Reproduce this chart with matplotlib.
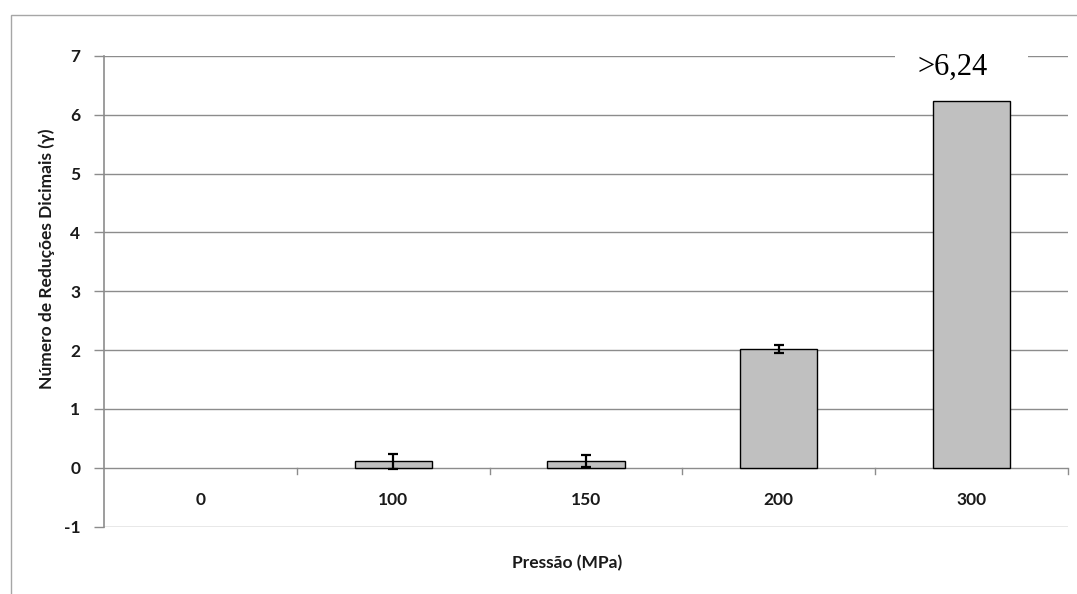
import matplotlib
matplotlib.use("Agg")
import matplotlib.pyplot as plt
from matplotlib.patches import Rectangle

categories = ["0", "100", "150", "200", "300"]
values = [0.0, 0.11, 0.12, 2.02, 6.24]
errors = [0.0, 0.13, 0.10, 0.07, 0.0]
yticks = [-1, 0, 1, 2, 3, 4, 5, 6, 7]
annotation = ">6,24"

W, H = 1077, 594
fig = plt.figure(figsize=(W / 100, H / 100), dpi=100)
fig.patch.set_facecolor("white")

# outer chart frame
fig.patches.append(Rectangle((10.5 / W, -0.2), 1.2, 1 - 15 / H + 0.2,
                             transform=fig.transFigure, fill=False,
                             edgecolor="#a6a6a6", linewidth=1.0))

left, right = 104 / W, 1068 / W
top, bottom = 1 - 56 / H, 1 - 526.5 / H
ax = fig.add_axes([left, bottom, right - left, top - bottom])

font = "Lato"
wt = "bold"
fs = 12.5
grid_c = "#8c8c8c"

x = list(range(len(categories)))
ax.set_xlim(-0.5, len(categories) - 0.5)
ax.set_ylim(-1, 7)

for yv in yticks:
    ax.axhline(yv, color=grid_c, lw=1.0, zorder=0)

lws = [0 if v == 0 else 1.0 for v in values]
ax.bar(x, values, width=0.4, color="#c0c0c0", edgecolor="black",
       linewidth=lws, zorder=2)
for xi, v, e in zip(x, values, errors):
    if e > 0:
        ax.errorbar(xi, v, yerr=e, fmt="none", ecolor="black",
                    elinewidth=1.6, capsize=3.5, capthick=1.6, zorder=3)

# category axis at y=0 with boundary ticks
for b in range(1, len(categories) + 1):
    ax.plot([b - 0.5, b - 0.5], [0, -0.1], color=grid_c, lw=1.0,
            clip_on=False, zorder=1)
for xi, c in zip(x, categories):
    ax.text(xi, -0.55, c, ha="center", va="center", fontsize=fs,
            family=font, weight=wt, color="#1a1a1a")

ax.set_xticks([])
ax.set_yticks(yticks)
ax.set_yticklabels([str(t) for t in yticks], fontsize=fs, family=font,
                   weight=wt, color="#1a1a1a")
ax.tick_params(axis="y", length=7, width=1.0, color=grid_c, pad=10)
for s in ["top", "right", "bottom"]:
    ax.spines[s].set_visible(False)
ax.spines["left"].set_color(grid_c)
ax.spines["left"].set_linewidth(1.2)

# data-label background and text
ax.add_patch(Rectangle((3.605, 6.72), 0.685, 0.42, facecolor="white",
                       edgecolor="none", zorder=4, clip_on=False))
ax.text(3.9, 6.80, annotation, ha="center", va="center", fontsize=22,
        family="Liberation Serif", color="black", zorder=5)

fig.text(47 / W, 1 - 259 / H, "Número de Reduções Dicimais (γ)",
         rotation=90, ha="center", va="center", fontsize=fs, family=font,
         weight=wt, color="#1a1a1a")
fig.text(567 / W, 1 - 563 / H, "Pressão (MPa)", ha="center", va="center",
         fontsize=fs, family=font, weight=wt, color="#1a1a1a")

fig.savefig("out.png", dpi=100)
